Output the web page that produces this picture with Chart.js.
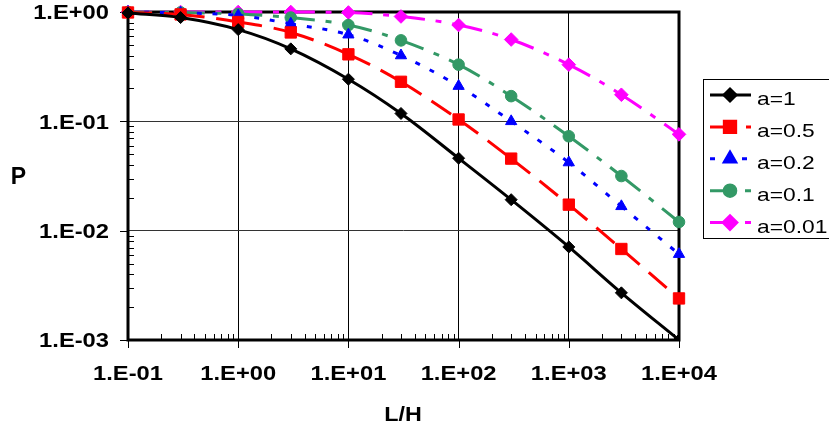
<!DOCTYPE html>
<html><head><meta charset="utf-8">
<script src="https://cdn.jsdelivr.net/npm/chart.js@4.4.0/dist/chart.umd.min.js"></script>
<style>html,body{margin:0;padding:0;background:#fff;overflow:hidden}</style>
</head><body>
<canvas id="c" width="829" height="434"></canvas>
<script>
const xValues = [0.1, 0.3, 1, 3, 10, 30, 100, 300, 1000, 3000, 10000];
const seriesA1   = [0.98, 0.89, 0.69, 0.46, 0.243, 0.118, 0.046, 0.0192, 0.0071, 0.0027, 0.001];
const seriesA05  = [0.99, 0.95, 0.81, 0.65, 0.41, 0.23, 0.104, 0.0456, 0.0173, 0.0068, 0.0024];
const seriesA02  = [1.0, 0.98, 0.93, 0.78, 0.62, 0.40, 0.21, 0.10, 0.042, 0.0167, 0.0061];
const seriesA01  = [1.0, 0.99, 0.96, 0.89, 0.76, 0.55, 0.33, 0.17, 0.073, 0.0316, 0.012];
const seriesA001 = [1.0, 1.0, 1.0, 1.0, 0.99, 0.91, 0.76, 0.56, 0.33, 0.175, 0.076];
const seriesLabels = ['a=1', 'a=0.5', 'a=0.2', 'a=0.1', 'a=0.01'];
const xTickValues = [0.1, 1, 10, 100, 1000, 10000];
const xTickLabels = ['1.E-01', '1.E+00', '1.E+01', '1.E+02', '1.E+03', '1.E+04'];
const yTickValues = [0.001, 0.01, 0.1, 1];
const yTickLabels = ['1.E-03', '1.E-02', '1.E-01', '1.E+00'];
const xTitle = 'L/H';
const yTitle = 'P';

const allSeries = [seriesA1, seriesA05, seriesA02, seriesA01, seriesA001];
const styles = [
  {color: '#000000', dash: [], point: 'rectRot', r: 6},
  {color: '#FF0000', dash: [24, 12], point: 'rect', r: 8},
  {color: '#0000FF', dash: [5, 11], point: 'triangle', r: 6.5},
  {color: '#339966', dash: [24, 11, 6, 11], point: 'circle', r: 5.8},
  {color: '#FF00FF', dash: [24, 11, 6, 11], point: 'rectRot', r: 6.8}
];

const datasets = allSeries.map((s, i) => ({
  label: seriesLabels[i],
  data: xValues.map((x, j) => ({x: x, y: s[j]})),
  borderColor: styles[i].color,
  backgroundColor: styles[i].color,
  borderWidth: 3,
  borderDash: styles[i].dash,
  borderCapStyle: 'butt',
  pointStyle: styles[i].point,
  pointRadius: styles[i].r,
  pointBorderWidth: 1,
  pointBorderColor: styles[i].color,
  pointBackgroundColor: styles[i].color,
  tension: 0.35,
  // restart the dash pattern at every data point (as in the original)
  segment: {borderDashOffset: ctx => (ctx.p0DataIndex % 2) * 0.001},
  clip: i === 0 ? {left: 12, top: 12, right: 0, bottom: 0} : false
}));

function sText(ctx, txt, x, y, align, sx) {
  ctx.save();
  ctx.translate(x, y);
  ctx.scale(sx, 1);
  ctx.textAlign = align;
  ctx.fillText(txt, 0, 0);
  ctx.restore();
}

const decor = {
  id: 'decor',
  beforeDatasetsDraw(chart) {
    const ctx = chart.ctx, a = chart.chartArea;
    const xs = chart.scales.x, ys = chart.scales.y;
    ctx.save();
    ctx.strokeStyle = '#000';
    ctx.lineWidth = 1;
    ctx.beginPath();
    for (let d = -3; d < 0; d++) {
      for (let k = 2; k <= 9; k++) {
        const py = Math.round(ys.getPixelForValue(k * Math.pow(10, d))) + 0.5;
        ctx.moveTo(a.left, py); ctx.lineTo(a.left + 6, py);
      }
    }
    yTickValues.forEach(v => {
      const py = Math.round(ys.getPixelForValue(v)) + 0.5;
      ctx.moveTo(a.left - 8, py); ctx.lineTo(a.left, py);
    });
    for (let d = -1; d < 4; d++) {
      for (let k = 2; k <= 9; k++) {
        const px = Math.round(xs.getPixelForValue(k * Math.pow(10, d))) + 0.5;
        ctx.moveTo(px, a.bottom); ctx.lineTo(px, a.bottom - 6);
      }
    }
    xTickValues.forEach(v => {
      const px = Math.round(xs.getPixelForValue(v)) + 0.5;
      ctx.moveTo(px, a.bottom); ctx.lineTo(px, a.bottom + 8);
    });
    ctx.stroke();
    ctx.lineWidth = 3;
    ctx.strokeRect(a.left, a.top, a.right - a.left, a.bottom - a.top);
    ctx.restore();
  },
  afterDraw(chart) {
    const ctx = chart.ctx;
    const xs = chart.scales.x, ys = chart.scales.y;
    ctx.save();
    ctx.fillStyle = '#000';
    ctx.font = 'bold 21px "Liberation Sans", Arial, sans-serif';
    ctx.textBaseline = 'middle';
    yTickValues.forEach((v, i) => {
      sText(ctx, yTickLabels[i], 109, ys.getPixelForValue(v) + 1.5, 'right', 1.13);
    });
    xTickValues.forEach((v, i) => {
      sText(ctx, xTickLabels[i], xs.getPixelForValue(v), 374, 'center', 1.13);
    });
    sText(ctx, xTitle, 403, 415, 'center', 1.11);
    ctx.font = 'bold 23px "Liberation Sans", Arial, sans-serif';
    sText(ctx, yTitle, 18.5, 178, 'center', 1.0);

    // legend
    ctx.lineWidth = 1;
    ctx.strokeStyle = '#000';
    ctx.strokeRect(703.5, 79.5, 140, 159);
    ctx.font = '19px "Liberation Sans", Arial, sans-serif';
    ctx.textBaseline = 'alphabetic';
    chart.data.datasets.forEach((ds, i) => {
      const y = 95 + i * 31.9;
      ctx.save();
      ctx.strokeStyle = ds.borderColor;
      ctx.lineWidth = 3;
      ctx.lineCap = 'butt';
      ctx.setLineDash(ds.borderDash);
      ctx.beginPath();
      ctx.moveTo(710, y); ctx.lineTo(751, y);
      ctx.stroke();
      ctx.setLineDash([]);
      ctx.fillStyle = ds.pointBackgroundColor;
      ctx.strokeStyle = ds.pointBorderColor;
      Chart.helpers.drawPoint(ctx, {pointStyle: ds.pointStyle, radius: ds.pointRadius, rotation: 0, borderWidth: 1}, 730, y);
      ctx.restore();
      ctx.fillStyle = '#000';
      sText(ctx, ds.label, 757, y + 10, 'left', 1.2);
    });
    ctx.restore();
  }
};

new Chart(document.getElementById('c'), {
  type: 'line',
  data: {datasets: datasets},
  options: {
    responsive: false,
    animation: false,
    devicePixelRatio: 1,
    layout: {padding: {left: 0, right: 150, top: 12, bottom: 0}},
    plugins: {legend: {display: false}, tooltip: {enabled: false}},
    scales: {
      x: {
        type: 'logarithmic',
        min: 0.1, max: 10000,
        afterBuildTicks: s => { s.ticks = xTickValues.map(v => ({value: v, major: true})); },
        afterFit: s => { s.height = 94; },
        ticks: {display: false},
        grid: {color: '#000', lineWidth: 1, drawTicks: false},
        border: {display: false}
      },
      y: {
        type: 'logarithmic',
        min: 0.001, max: 1,
        afterBuildTicks: s => { s.ticks = yTickValues.map(v => ({value: v, major: true})); },
        afterFit: s => { s.width = 128; },
        ticks: {display: false},
        grid: {color: '#333', lineWidth: 1, drawTicks: false},
        border: {display: false}
      }
    }
  },
  plugins: [decor]
});
</script>
</body></html>
